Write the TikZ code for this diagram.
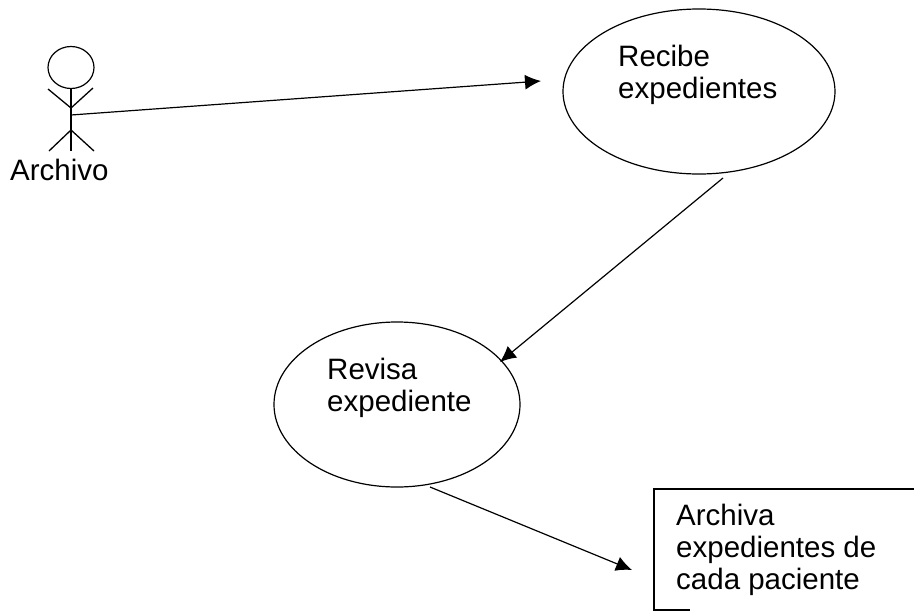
\documentclass[tikz,border=0pt]{standalone}
\usepackage{fontspec}
\setmainfont{Liberation Sans}
\usetikzlibrary{arrows.meta,shapes.geometric}
\tikzset{
  usecase/.style={draw,ellipse,line width=1.2pt,inner sep=0pt},
  labeltext/.style={align=left,font=\fontsize{29.5pt}{32pt}\selectfont,inner sep=0pt,anchor=base west},
  link/.style={line width=1.2pt,-{Latex[length=16pt,width=15pt]}},
  stick/.style={line width=1.3pt}
}
\begin{document}
\begin{tikzpicture}[x=1pt,y=-1pt]
  \useasboundingbox (0,0) rectangle (914,611);
  % actor
  \node[usecase,minimum width=46pt,minimum height=42pt] (head) at (71,67.5) {};
  \coordinate (hip) at (71,130);
  \coordinate (neck) at (71,108);
  \coordinate (waist) at (71,115);
  \draw[stick] (head.south)--(71,151);
  \draw[stick] (48,89)--(neck)--(93,88);
  \draw[stick] (49,151)--(hip)--(94,151);
  \node[labeltext] (archivo) at (10,180) {Archivo};

  \node[usecase,minimum width=272pt,minimum height=165pt] (recibe) at (699,91.5) {};
  \node[labeltext] (recibetxt) at (618,98) {Recibe\\expedientes};
  \node[usecase,minimum width=246pt,minimum height=165pt] (revisa) at (397,404.5) {};
  \node[labeltext] (revisatxt) at (327,411) {Revisa\\expediente};

  % open box, cut off by the page
  \coordinate (boxtop) at (914,489);
  \coordinate (boxtl) at (654,489);
  \coordinate (boxbl) at (654,610);
  \coordinate (boxbot) at (690,610);
  \draw[line width=1.3pt] (boxtop)--(boxtl)--(boxbl)--(boxbot);
  \node[labeltext] (archivatxt) at (676,589) {Archiva\\expedientes de\\cada paciente};

  \coordinate (recibein) at (541,81);
  \coordinate (recibeout) at (723,178);
  \coordinate (revisain) at (500,362);
  \coordinate (revisaout) at (430,487);
  \coordinate (archivain) at (632,570);
  \draw[link] (waist)--(recibein);
  \draw[link] (recibeout)--(revisain);
  \draw[link] (revisaout)--(archivain);
\end{tikzpicture}
\end{document}
